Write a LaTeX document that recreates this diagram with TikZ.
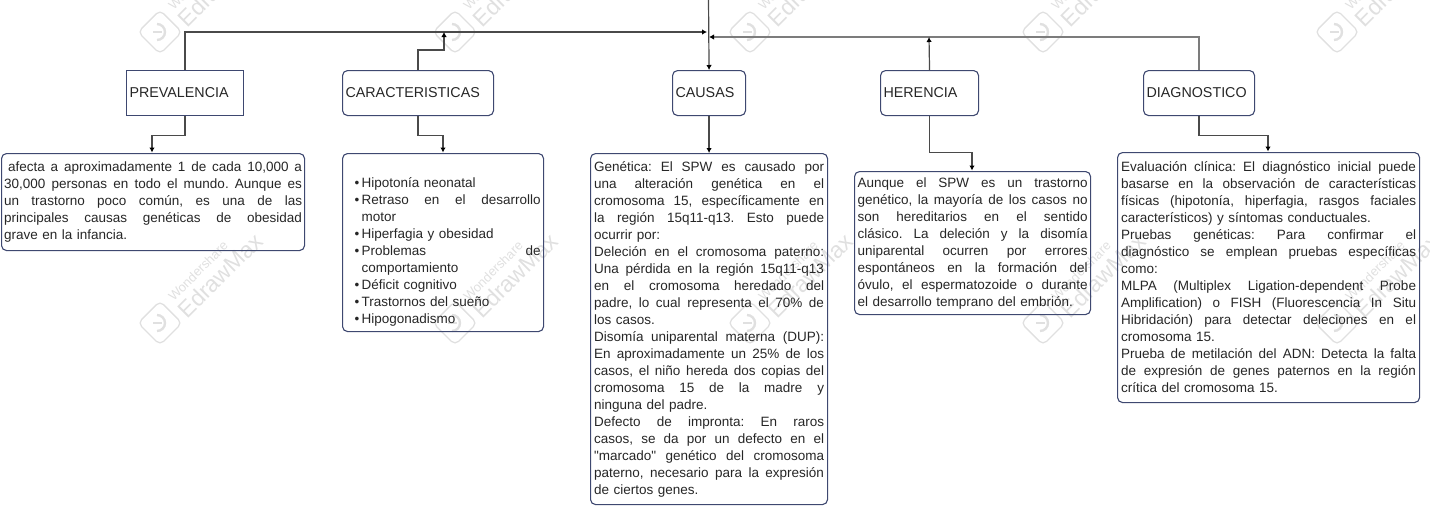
\documentclass[tikz,border=0pt]{standalone}
\usepackage{fontspec}
\setmainfont{Liberation Sans}[Ligatures=TeXOff]
\usetikzlibrary{arrows.meta,calc}
\definecolor{boxline}{HTML}{3E4870}
\definecolor{conn}{HTML}{4A4A4A}
\definecolor{connlight}{HTML}{7C7C7C}
\definecolor{wm}{HTML}{E0E0E0}
\definecolor{textc}{HTML}{262626}
\frenchspacing
\newcommand{\jl}[1]{\makebox[\linewidth][s]{\spaceskip=0pt\xspaceskip=0pt #1}}
\newcommand{\bl}[1]{\hspace*{9pt}\makebox[7pt][l]{\textbullet}\makebox[179pt][s]{\spaceskip=0pt\xspaceskip=0pt #1}}
\newcommand{\blx}[1]{\hspace*{9pt}\makebox[7pt][l]{\textbullet}#1}
\tikzset{
  titlebox/.style={draw=boxline,line width=1.1pt,anchor=north west,inner xsep=3pt,inner ysep=0pt,align=left,
    minimum height=45pt,text=textc,font=\fontsize{14.3}{17}\selectfont},
  roundbox/.style={titlebox,rounded corners=5pt},
  bodybox/.style={draw=boxline,line width=1.1pt,anchor=north west,rounded corners=5pt,inner ysep=0pt,align=left,
    text=textc,font=\fontsize{13.5}{17}\selectfont},
  link/.style={draw=conn,line width=1.2pt,-{Latex[length=5pt,width=5.5pt,color=black]}},
  wmicon/.style={draw=wm,line width=1.3pt,rounded corners=5pt,minimum size=31pt,rotate=45,inner sep=0pt},
  wmbig/.style={text=wm,rotate=45,font=\fontsize{23}{23}\selectfont},
  wmsmall/.style={text=wm,rotate=45,font=\fontsize{13}{13}\selectfont}
}
\begin{document}
\begin{tikzpicture}[x=1pt,y=-1pt]
\useasboundingbox (0,0) rectangle (1430,512);
% watermark
\clip (0,0) rectangle (1430,512);
\foreach \wx [count=\i] in {160,455,750,1043,1337}{
  \foreach \wy [count=\j] in {32,323}{
    \node[wmicon] (ic\i\j) at (\wx,\wy) {};
    \draw[draw=wm,line width=2.4pt] ($(ic\i\j.center)+(-3,-8)$) arc[start angle=90,end angle=-90,radius=8pt,y=1pt];
    \draw[draw=wm,line width=2.4pt] ($(ic\i\j.center)+(-7,0)$) -- ++(9,0);
    \node[wmbig] (wb\i\j) at (\wx+60,\wy-47.5) {EdrawMax};
    \node[wmsmall] (ws\i\j) at (\wx+38,\wy-52) {Wondershare};
  }
}
% title boxes
\node[titlebox,text width=111pt] (prev) at (126,70) {PREVALENCIA};
\node[roundbox,text width=145pt] (car) at (342,70) {CARACTERISTICAS};
\node[roundbox,text width=67pt] (cau) at (672,70) {CAUSAS};
\node[roundbox,text width=92pt] (her) at (880,70) {HERENCIA};
\node[roundbox,text width=105pt] (dia) at (1143,70) {DIAGNOSTICO};
% body boxes
\node[bodybox,inner xsep=2.5pt,text width=298pt,minimum height=97pt] (ptxt) at (1,153) {%
\jl{\hspace*{4pt}afecta a aproximadamente 1 de cada 10,000 a}\\
\jl{30,000 personas en todo el mundo. Aunque es}\\
\jl{un trastorno poco común, es una de las}\\
\jl{principales causas genéticas de obesidad}\\
grave en la infancia.};
\node[bodybox,inner xsep=3pt,text width=195pt,minimum height=178pt] (ctxt) at (342,153) {%
\rule{0pt}{11pt}\\
\blx{Hipotonía neonatal}\\
\bl{Retraso en el desarrollo}\\
\hspace*{16pt}motor\\
\blx{Hiperfagia y obesidad}\\
\bl{Problemas de}\\
\hspace*{16pt}comportamiento\\
\blx{Déficit cognitivo}\\
\blx{Trastornos del sueño}\\
\blx{Hipogonadismo}};
\node[bodybox,inner xsep=3.5pt,text width=230pt,minimum height=351pt] (atxt) at (590,153) {%
\jl{Genética: El SPW es causado por}\\
\jl{una alteración genética en el}\\
\jl{cromosoma 15, específicamente en}\\
\jl{la región 15q11-q13. Esto puede}\\
ocurrir por:\\
\jl{Deleción en el cromosoma paterno:}\\
\jl{Una pérdida en la región 15q11-q13}\\
\jl{en el cromosoma heredado del}\\
\jl{padre, lo cual representa el 70\% de}\\
los casos.\\
\jl{Disomía uniparental materna (DUP):}\\
\jl{En aproximadamente un 25\% de los}\\
\jl{casos, el niño hereda dos copias del}\\
\jl{cromosoma 15 de la madre y}\\
ninguna del padre.\\
\jl{Defecto de impronta: En raros}\\
\jl{casos, se da por un defecto en el}\\
\jl{"marcado" genético del cromosoma}\\
\jl{paterno, necesario para la expresión}\\
de ciertos genes.};
\node[bodybox,inner xsep=3pt,text width=230pt,minimum height=143pt] (htxt) at (854,171) {%
\jl{Aunque el SPW es un trastorno}\\
\jl{genético, la mayoría de los casos no}\\
\jl{son hereditarios en el sentido}\\
\jl{clásico. La deleción y la disomía}\\
\jl{uniparental ocurren por errores}\\
\jl{espontáneos en la formación del}\\
\jl{óvulo, el espermatozoide o durante}\\
el desarrollo temprano del embrión.};
\node[bodybox,inner xsep=3.5pt,text width=295pt,minimum height=250pt] (dtxt) at (1117,152) {%
\jl{Evaluación clínica: El diagnóstico inicial puede}\\
\jl{basarse en la observación de características}\\
\jl{físicas (hipotonía, hiperfagia, rasgos faciales}\\
característicos) y síntomas conductuales.\\
\jl{Pruebas genéticas: Para confirmar el}\\
\jl{diagnóstico se emplean pruebas específicas}\\
como:\\
\jl{MLPA (Multiplex Ligation-dependent Probe}\\
\jl{Amplification) o FISH (Fluorescencia In Situ}\\
\jl{Hibridación) para detectar deleciones en el}\\
cromosoma 15.\\
\jl{Prueba de metilación del ADN: Detecta la falta}\\
\jl{de expresión de genes paternos en la región}\\
crítica del cromosoma 15.};
% connector ends
\coordinate (src) at (708.5,-2);
\coordinate (hiEnd) at (707,32);
\coordinate (hiCar) at (444,32);
\coordinate (loEnd) at (709,37);
\coordinate (loHer) at (929,37);
\coordinate (pIn) at (152,152.5);
\coordinate (cIn) at (443,152.5);
\coordinate (hIn) at (972,170.5);
\coordinate (dIn) at (1268,151.5);
% connectors
\draw[link,draw=connlight,line width=1.6pt] (dia.north) |- (loEnd);
\draw[link] (src) -- (cau.north);
\draw[link] (prev.north) |- (hiEnd);
\draw[link] (car.north) -- ++(0,-20) -| (hiCar);
\draw[link] (her.north) -- (loHer);
\draw[link] (prev.south) -- ++(0,19) -| (pIn);
\draw[link] (car.south) -- ++(0,19) -| (cIn);
\draw[link] (cau.south) -- (atxt.north -| cau.south);
\draw[link] (her.south) -- ++(0,36) -| (hIn);
\draw[link] (dia.south) -- ++(0,19) -| (dIn);
\end{tikzpicture}
\end{document}
